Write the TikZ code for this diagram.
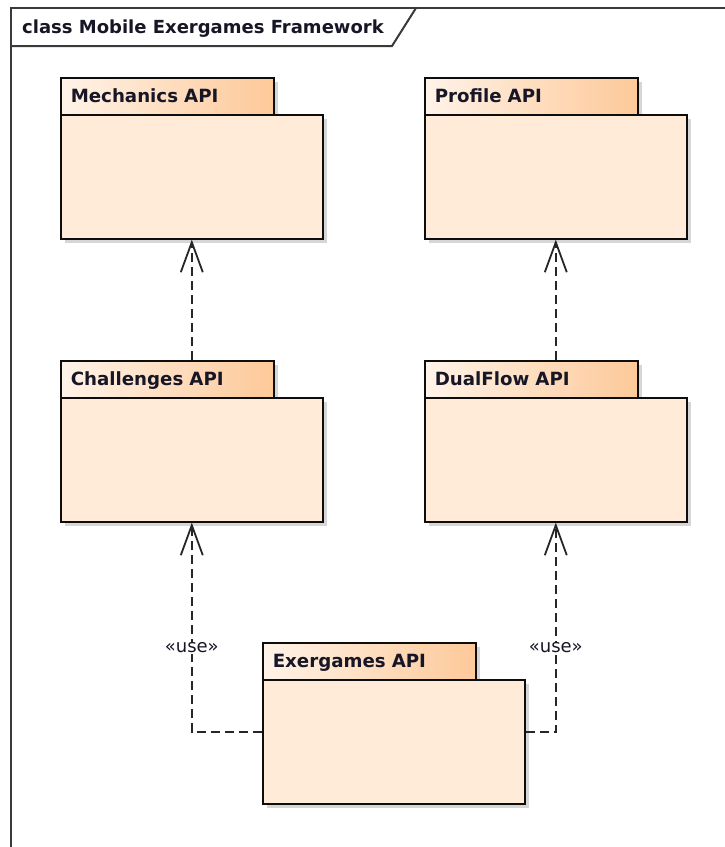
\documentclass[tikz,border=0pt]{standalone}
\usepackage{fontspec}
\setmainfont{DejaVu Sans}
\usetikzlibrary{arrows.meta,shadows,calc}
\definecolor{bodyfill}{HTML}{FFEBD7}
\definecolor{tabL}{HTML}{FFF3E8}
\definecolor{tabR}{HTML}{FDC999}
\definecolor{txt}{HTML}{161626}
\definecolor{framec}{HTML}{3A3A3A}
\begin{document}
\begin{tikzpicture}[x=1pt,y=-1pt,
  pkgshadow/.style={general shadow={fill=black!16, shadow xshift=4pt, shadow yshift=-4pt}},
  tab/.style={draw=black!95, line width=1.6pt, left color=tabL, right color=tabR,
    minimum width=213pt, minimum height=37pt, inner xsep=10pt, inner ysep=0pt,
    text width=193pt, align=left, text height=13.5pt, text depth=1pt,
    anchor=north west, font=\fontsize{18.2}{22}\selectfont\bfseries, text=txt, pkgshadow},
  body/.style={draw=black!95, line width=1.6pt, fill=bodyfill, minimum width=262pt,
    minimum height=124pt, inner sep=0pt, anchor=north west, pkgshadow},
  dep/.style={draw=black!85, line width=1.8pt, dash pattern=on 9pt off 5pt,
    -{Straight Barb[length=30pt, width=22pt]}},
  uselbl/.style={fill=white, inner sep=1pt, text=txt, font=\fontsize{18}{22}\selectfont},
  framelbl/.style={anchor=base west, inner sep=0pt, text=txt, font=\fontsize{18}{22}\selectfont\bfseries}
]
\useasboundingbox (0,0) rectangle (725,847);
\fill[white] (0,0) rectangle (725,847);
% frame
\draw[framec, line width=2pt] (11,847) -- (11,8) -- (725,8);
\draw[framec, line width=2pt] (11,46) -- (392,46) -- (416,8);
\node[framelbl] (flbl) at (22,33) {class Mobile Exergames Framework};
% packages
\node[tab] (mecht) at (60,77) {Mechanics API};
\node[body] (mechb) at (60,114) {};
\node[tab] (proft) at (424,77) {Profile API};
\node[body] (profb) at (424,114) {};
\node[tab] (chalt) at (60,360) {Challenges API};
\node[body] (chalb) at (60,397) {};
\node[tab] (dualt) at (424,360) {DualFlow API};
\node[body] (dualb) at (424,397) {};
\node[tab] (ext) at (262,642) {Exergames API};
\node[body] (exb) at (262,679) {};
% connectors
\draw[dep] (chalt.north -| mechb.south) -- (mechb.south);
\draw[dep] (dualt.north -| profb.south) -- (profb.south);
\draw[dep] ($(exb.north west)+(0,53)$) -| (chalb.south);
\draw[dep] ($(exb.north east)+(0,53)$) -| (dualb.south);
\coordinate (uy) at (0,648);
\node[uselbl] (use1) at (chalb.south |- uy) {«use»};
\node[uselbl] (use2) at (dualb.south |- uy) {«use»};
\end{tikzpicture}
\end{document}
